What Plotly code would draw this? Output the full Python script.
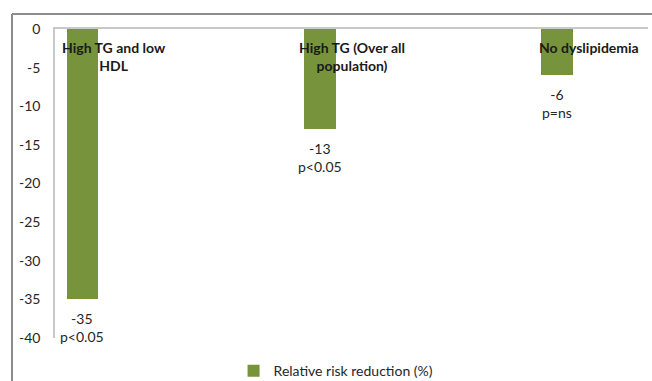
import plotly.graph_objects as go

# Relative risk reduction by lipid subgroup
categories = ["High TG and low<br>HDL", "High TG (Over all<br>population)", "No dyslipidemia"]
rrr_values = [-35, -13, -6]
p_labels = ["p&lt;0.05", "p&lt;0.05", "p=ns"]
y_ticks = [0, -5, -10, -15, -20, -25, -30, -35, -40]
y_tick_text = ["0", "-5", "-10", "-15", "-20", "-25", "-30", "-35", "-40"]
series_name = "Relative risk reduction (%)"

bar_color = "#77933C"
font_family = "Lato, 'Open Sans', sans-serif"
x_pos = list(range(len(categories)))

fig = go.Figure()
fig.add_trace(go.Bar(
    x=x_pos,
    y=rrr_values,
    width=0.135,
    marker=dict(color=bar_color, line=dict(width=0)),
    name=series_name,
    showlegend=True,
))

annotations = []
for xi, cat, v, p in zip(x_pos, categories, rrr_values, p_labels):
    # category name drawn just under the zero line, to the right of the bar
    annotations.append(dict(
        x=xi, y=0, xref="x", yref="y", text=f"<b>{cat}</b>",
        showarrow=False, xanchor="center", yanchor="top",
        xshift=32, yshift=-8, align="center",
        font=dict(family=font_family, size=14, color="#1a1a1a"),
    ))
    # value and significance under the bar end
    annotations.append(dict(
        x=xi, y=v, xref="x", yref="y", text=f"{v}<br>{p}",
        showarrow=False, xanchor="center", yanchor="top",
        yshift=-9, align="center",
        font=dict(family=font_family, size=14, color="#262626"),
    ))

# outer chart frame (top and left edges)
frame_color = "#8c8c8c"
shapes = [
    dict(type="line", xref="paper", yref="paper", x0=-0.0725, x1=1.01, y0=1.0485, y1=1.0485,
         line=dict(color=frame_color, width=2)),
    dict(type="line", xref="paper", yref="paper", x0=-0.0725, x1=-0.0725, y0=1.0485, y1=-0.2,
         line=dict(color=frame_color, width=2)),
]

fig.update_layout(
    width=652, height=381,
    margin=dict(l=55, r=4, t=29, b=43, autoexpand=False),
    paper_bgcolor="white", plot_bgcolor="white",
    font=dict(family=font_family, size=13, color="#262626"),
    bargap=0,
    xaxis=dict(
        range=[-0.116, 2.386], side="top", showline=True, linecolor="#c8c8c8", linewidth=1.5,
        showticklabels=False, showgrid=False, zeroline=False, ticks="",
    ),
    yaxis=dict(
        range=[-40, 0], tickvals=y_ticks, ticktext=y_tick_text, showline=True,
        linecolor="#c8c8c8", linewidth=1.5,
        showgrid=False, zeroline=False, ticks="", ticklabelstandoff=10,
        tickfont=dict(family=font_family, size=14, color="#262626"),
    ),
    legend=dict(
        orientation="h", x=0.474, xanchor="center", y=-0.107, yanchor="middle",
        font=dict(family=font_family, size=14, color="#262626"),
        itemwidth=30, bgcolor="rgba(0,0,0,0)",
    ),
    annotations=annotations,
    shapes=shapes,
)

fig.write_html("out.html")
